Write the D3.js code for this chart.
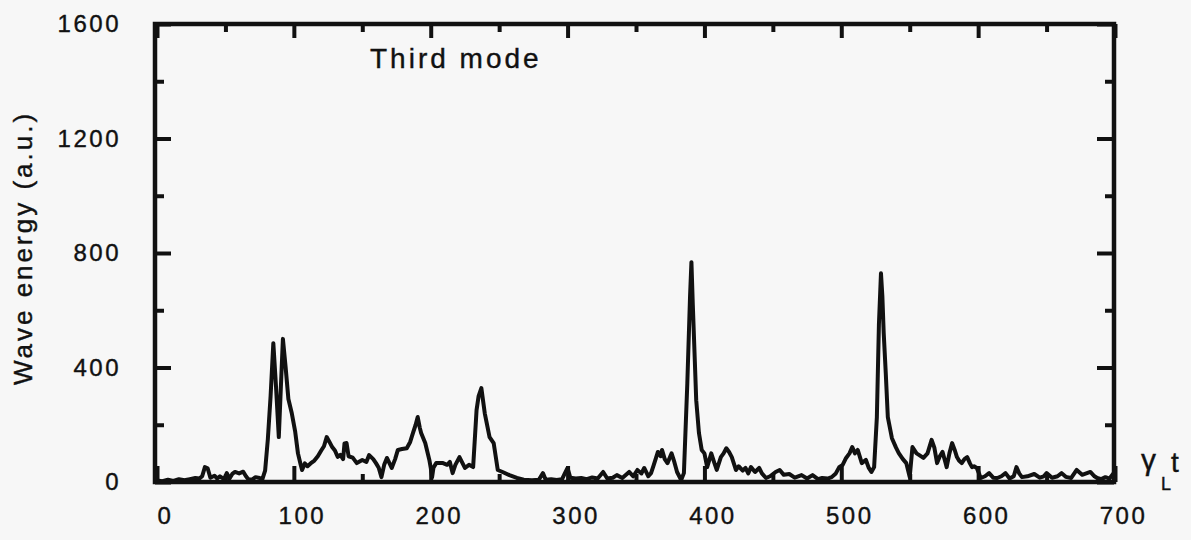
<!DOCTYPE html>
<html>
<head>
<meta charset="utf-8">
<script src="https://cdn.jsdelivr.net/npm/d3@7"></script>
<style>
  body { margin: 0; background: #f7f7f7; }
  svg { display: block; }
  text { font-family: "Liberation Sans", Arial, Helvetica, sans-serif; fill: #111; stroke: #111; stroke-width: 0.4px; }
</style>
</head>
<body>
<svg id="chart" width="1191" height="540"></svg>
<script>
// ---- data ----
const timeValues = [
  0, 4, 8, 12, 16, 20, 24, 28, 31, 33, 35, 37, 39, 42, 44, 46, 49, 51, 53, 55,
  57, 60, 63, 65, 67, 70, 72, 75, 77, 79, 81, 83, 85, 87, 89, 90.5, 92, 94, 96, 98.5,
  101, 103, 105, 106, 108, 110, 113, 115, 117.5, 120, 122, 124, 126, 128, 130, 132, 134, 136, 137, 138.5,
  140, 143, 146, 150, 153, 155, 158, 160, 162, 164, 166, 168, 171.5, 174, 176, 179, 182.5, 185, 187, 189,
  190.5, 192, 193, 196, 199, 200, 201, 202, 204, 209, 212, 214, 216, 218, 221, 225, 228, 231, 233.5, 235,
  237, 239.5, 243, 246, 249, 252.5, 257.5, 263, 268, 274, 279, 282, 284, 288, 292, 296, 298, 300, 302, 306,
  310, 314, 318, 322, 326, 329, 333, 336, 340, 345, 348, 351, 354, 356, 359, 361, 363, 366, 368, 369,
  371, 373, 376, 378, 380, 383, 385, 387.5, 389.5, 390.5, 391.5, 393, 394, 396, 398, 400, 402, 405, 407, 409,
  412, 414, 416, 418, 420, 423, 425, 428, 430, 432, 434, 437, 440, 442, 445, 448, 452, 455, 458, 462,
  466, 471, 475, 479, 483, 486, 490, 493, 496, 498.5, 501, 503.5, 506, 508, 510, 512, 515, 518, 520, 522,
  524, 526, 527.5, 529, 530, 531, 532.5, 534, 537, 540, 542, 545, 547.5, 550, 552, 555, 557, 560, 563, 566,
  568, 570, 572, 574, 576, 577, 579, 581, 583, 584.5, 586, 588, 590, 592, 594, 595.5, 597, 599, 601, 602,
  605, 608, 611, 614, 617, 620, 623, 626, 628, 630, 632, 636, 641, 645, 648, 650, 654, 658, 661, 664,
  668, 672, 676, 679, 682, 685, 687, 690, 693, 696, 699, 700
];
const energyValues = [
  5, 3, 8, 4, 10, 6, 10, 14, 12, 20, 52, 48, 15, 22, 12, 20, 10, 31, 12, 28,
  35, 30, 36, 20, 8, 10, 17, 14, 10, 40, 150, 300, 485, 330, 157, 330, 500, 400, 290, 240,
  175, 100, 60, 42, 65, 55, 68, 75, 90, 110, 125, 157, 140, 122, 110, 88, 95, 80, 135, 136,
  90, 85, 66, 77, 70, 94, 80, 66, 50, 17, 60, 84, 49, 80, 112, 115, 118, 140, 171, 200,
  227, 190, 171, 136, 77, 50, 17, 50, 66, 66, 60, 70, 31, 60, 87, 49, 60, 52, 251, 300,
  328, 240, 157, 136, 42, 35, 24, 14, 8, 6, 8, 31, 8, 10, 7, 10, 30, 49, 15, 12,
  14, 10, 16, 12, 35, 12, 15, 24, 14, 35, 20, 42, 30, 49, 20, 31, 60, 105, 90, 112,
  80, 66, 100, 70, 35, 7, 31, 345, 650, 768, 620, 420, 286, 171, 112, 100, 52, 100, 70, 42,
  87, 100, 118, 105, 87, 42, 55, 40, 49, 30, 52, 35, 49, 30, 14, 20, 35, 42, 25, 28,
  15, 24, 12, 24, 10, 14, 12, 17, 30, 52, 60, 84, 100, 122, 100, 112, 66, 77, 50, 35,
  52, 227, 550, 729, 650, 520, 380, 227, 153, 120, 101, 80, 66, 17, 122, 100, 94, 84, 100, 147,
  120, 66, 90, 105, 70, 52, 100, 136, 110, 87, 75, 66, 80, 87, 65, 52, 55, 49, 25, 14,
  20, 31, 15, 14, 20, 31, 12, 20, 52, 30, 17, 20, 28, 15, 20, 31, 15, 20, 31, 18,
  14, 42, 25, 30, 35, 20, 14, 10, 17, 12, 31, 20
];
const xTickLabels = [0, 100, 200, 300, 400, 500, 600, 700];
const xMinorTicks = [50, 150, 250, 350, 450, 550, 650];
const yTickLabels = [0, 400, 800, 1200, 1600];
const yMinorTicks = [200, 600, 1000, 1400];
const titleText = "Third mode";
const yTitle = "Wave energy (a.u.)";

// ---- drawing ----
const svg = d3.select("#chart");
svg.append("rect").attr("width", 1191).attr("height", 540).attr("fill", "#f7f7f7").attr("stroke", "none");

const x = d3.scaleLinear().domain([0, 700]).range([157, 1115]);
const y = d3.scaleLinear().domain([0, 1600]).range([482, 24]);

const ink = "#111";
const tickW = 4;

function styleAxis(g) {
  g.select(".domain").remove();
  g.selectAll(".tick line").attr("stroke", ink).attr("stroke-width", tickW);
  g.selectAll("text").attr("fill", ink).attr("font-size", 24).attr("letter-spacing", 2.5)
   .attr("font-family", '"Liberation Sans", Arial, sans-serif');
}

// bottom major ticks with labels
svg.append("g").attr("transform", `translate(0,${y(0)})`)
  .call(d3.axisBottom(x).tickValues(xTickLabels).tickSize(-16).tickPadding(25).tickFormat(d3.format("d")))
  .call(styleAxis)
  .call(g => g.selectAll("text").attr("dx", 8));
svg.append("g").attr("transform", `translate(0,${y(0)})`)
  .call(d3.axisBottom(x).tickValues(xMinorTicks).tickSize(-8).tickFormat(""))
  .call(styleAxis);
// top ticks
svg.append("g").attr("transform", `translate(0,${y(1600)})`)
  .call(d3.axisTop(x).tickValues(xTickLabels).tickSize(-14).tickFormat(""))
  .call(styleAxis);
svg.append("g").attr("transform", `translate(0,${y(1600)})`)
  .call(d3.axisTop(x).tickValues(xMinorTicks).tickSize(-8).tickFormat(""))
  .call(styleAxis);
// left ticks with labels
svg.append("g").attr("transform", `translate(155,0)`)
  .call(d3.axisLeft(y).tickValues(yTickLabels).tickSize(-16).tickPadding(34).tickFormat(d3.format("d")))
  .call(styleAxis);
svg.append("g").attr("transform", `translate(155,0)`)
  .call(d3.axisLeft(y).tickValues(yMinorTicks).tickSize(-9).tickFormat(""))
  .call(styleAxis);
// right ticks
svg.append("g").attr("transform", `translate(1114,0)`)
  .call(d3.axisRight(y).tickValues(yTickLabels).tickSize(-17).tickFormat(""))
  .call(styleAxis);
svg.append("g").attr("transform", `translate(1114,0)`)
  .call(d3.axisRight(y).tickValues(yMinorTicks).tickSize(-9).tickFormat(""))
  .call(styleAxis);

// data line
const pts = timeValues.map((t, i) => [t, energyValues[i]]);
svg.append("path")
  .datum(pts)
  .attr("fill", "none")
  .attr("stroke", ink)
  .attr("stroke-width", 4)
  .attr("stroke-linejoin", "round")
  .attr("d", d3.line().x(d => x(d[0])).y(d => y(d[1])));

// frame
svg.append("rect")
  .attr("x", 155).attr("y", 24).attr("width", 959).attr("height", 458)
  .attr("fill", "none").attr("stroke", ink).attr("stroke-width", 4.5);

// title
svg.append("text").attr("x", 370).attr("y", 68)
  .attr("font-size", 28).attr("letter-spacing", 3).text(titleText);

// y axis title
svg.append("text")
  .attr("transform", "translate(32,248) rotate(-90)")
  .attr("text-anchor", "middle")
  .attr("font-size", 26).attr("letter-spacing", 3)
  .text(yTitle);

// x axis symbol gamma_L t
const sym = svg.append("g");
sym.append("text").attr("x", 1141).attr("y", 470).attr("font-size", 30)
  .attr("font-family", '"Liberation Serif", "DejaVu Serif", serif').text("γ");
sym.append("text").attr("x", 1161).attr("y", 490).attr("font-size", 18).text("L");
sym.append("text").attr("x", 1171).attr("y", 472).attr("font-size", 28).text("t");
</script>
</body>
</html>
